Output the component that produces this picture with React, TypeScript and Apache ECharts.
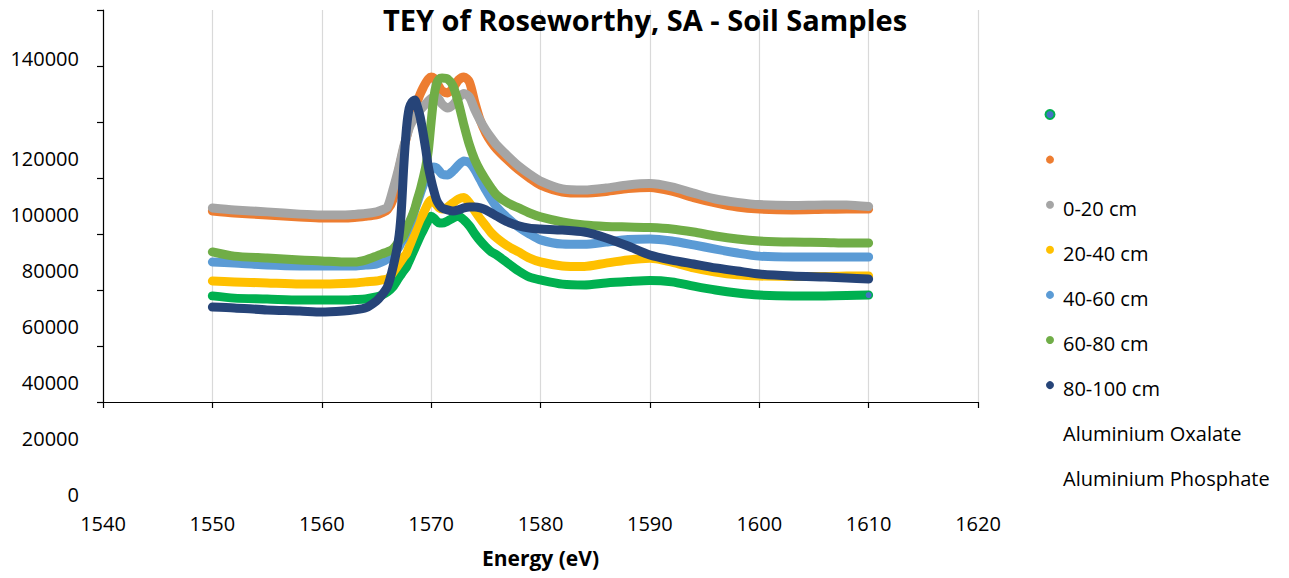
import React, { useEffect, useRef } from 'react';
import * as echarts from 'echarts';

// Photon energy (eV) of each sample point
const energy = [
  1550, 1552, 1555, 1558, 1560, 1562, 1563, 1564,
  1565, 1565.5, 1566, 1566.5, 1567, 1567.25, 1567.5, 1567.75,
  1568, 1568.25, 1568.5, 1568.75, 1569, 1569.25, 1569.5, 1569.75,
  1570, 1570.25, 1570.5, 1570.75, 1571, 1571.5, 1572, 1572.5,
  1573, 1573.5, 1574, 1574.5, 1575, 1575.5, 1576,
  1577, 1578, 1579, 1580,
  1582, 1584, 1586, 1588, 1590,
  1592, 1594, 1596, 1598, 1600,
  1603, 1606, 1608, 1610,
];

// Total electron yield per sample
const aluminiumOxalate = [
  37900, 37100, 36800, 36400, 36400, 36400, 36600, 36800,
  37500, 38200, 39300, 41100, 44100, 45500, 46900, 48200,
  50400, 52600, 54800, 57000, 59200, 61100, 63100, 65000,
  66300, 65700, 64600, 63900, 63900, 64600, 65700, 66300,
  65000, 62900, 60000, 57500, 55400, 53600, 52500,
  49600, 46800, 44600, 43600,
  42100, 41800, 42500, 43000, 43400,
  42900, 41400, 40000, 38900, 38200,
  37900, 37900, 38000, 38200,
];

const aluminiumPhosphate = [
  68200, 67500, 66800, 66100, 65700, 65700, 65900, 66300,
  66800, 67500, 68600, 72100, 82100, 86400, 90700, 94600,
  98600, 101800, 105000, 107500, 110000, 112100, 113900, 115400,
  116100, 115700, 114300, 112500, 111100, 110400, 112100, 115000,
  116100, 114300, 107000, 100500, 96000, 92800, 90300,
  86400, 82900, 80000, 77500,
  75000, 74600, 75200, 76200, 76600,
  75300, 73000, 71100, 69600, 68900,
  68600, 68800, 68900, 68900,
];

const depth0to20 = [
  69300, 68600, 67900, 67100, 66800, 66800, 67000, 67300,
  67900, 68600, 69600, 75700, 82900, 87100, 91400, 94600,
  97900, 100000, 101400, 102900, 104300, 105400, 106400, 107500,
  108400, 108900, 108900, 107900, 106400, 105000, 106100, 108600,
  110200, 108900, 104300, 100400, 97100, 94300, 91800,
  87900, 84300, 81400, 78900,
  76100, 75700, 76400, 77500, 78000,
  76800, 74600, 72500, 71300, 70500,
  70200, 70400, 70400, 69800,
];

const depth20to40 = [
  43200, 42900, 42500, 42100, 42100, 42300, 42500, 42900,
  43200, 43600, 43900, 46100, 48900, 50400, 51800, 53000,
  55500, 57900, 60400, 62900, 65200, 67100, 69100, 71100,
  72100, 71400, 70400, 69300, 68900, 69600, 71100, 72500,
  73000, 71100, 68200, 65400, 62900, 60400, 58600,
  55700, 53600, 51400, 50000,
  48600, 48400, 49600, 50700, 51300,
  50000, 47900, 46400, 45400, 45000,
  44800, 44800, 45000, 45000,
];

const depth40to60 = [
  50000, 49600, 48900, 48600, 48600, 48600, 48600, 48900,
  49300, 50000, 51100, 52500, 55000, 56800, 58600, 60700,
  62900, 65400, 68600, 71400, 74300, 77100, 79300, 81400,
  82900, 83900, 83600, 82500, 81400, 81100, 82500, 84600,
  86100, 85400, 82900, 79300, 75700, 72500, 69600,
  65700, 62500, 60000, 57900,
  56400, 56300, 57100, 58000, 58200,
  57500, 56100, 54600, 53200, 52100,
  51800, 51800, 51800, 51800,
];

const depth60to80 = [
  53600, 52100, 51400, 50700, 50400, 50000, 50000, 50700,
  52100, 52900, 53600, 54600, 57000, 58200, 59500, 61800,
  64100, 66400, 68900, 72500, 75700, 79600, 83900, 90000,
  100000, 108900, 113600, 115400, 115700, 115400, 112900, 106800,
  98900, 91800, 86400, 82500, 79300, 76400, 73900,
  71100, 69300, 67500, 66100,
  64300, 63200, 62700, 62500, 62300,
  61800, 60700, 59300, 58200, 57500,
  57100, 57000, 56800, 56800,
];

const depth80to100 = [
  33900, 33600, 32900, 32500, 32100, 32500, 32900, 33600,
  36100, 38200, 41100, 47900, 57500, 66800, 84300, 97900,
  105000, 107100, 107900, 105400, 101800, 96400, 90400, 83900,
  79300, 75400, 72100, 70400, 69300, 68600, 68200, 68600,
  69300, 69600, 69600, 69300, 68600, 67500, 66400,
  64300, 62900, 62100, 61800,
  61400, 60700, 58600, 55700, 52500,
  50700, 49300, 47900, 46800, 45700,
  45000, 44600, 44300, 43900,
];

const yTicks = [0, 20000, 40000, 60000, 80000, 100000, 120000, 140000];

const legendLabels = [
  '', '', '0-20 cm', '20-40 cm', '40-60 cm', '60-80 cm', '80-100 cm',
  'Aluminium Oxalate', 'Aluminium Phosphate',
];
const legendColors = [
  '#00B050', '#ED7D31', '#A5A5A5', '#FFC000', '#5B9BD5', '#70AD47', '#264478', '', '',
];

const W = 1289;
const H = 578;
const GRID = { left: 103, right: 311, top: 10, bottom: 176 };
const FONT = '"Open Sans", "Noto Sans", sans-serif';
const X_MIN = 1540;
const X_MAX = 1620;
const Y_MAX = 140000;

const seriesDefs = [
  { name: 'Aluminium Oxalate', color: '#00B050', values: aluminiumOxalate, endDot: '#4472C4' },
  { name: 'Aluminium Phosphate', color: '#ED7D31', values: aluminiumPhosphate },
  { name: '0-20 cm', color: '#A5A5A5', values: depth0to20 },
  { name: '20-40 cm', color: '#FFC000', values: depth20to40 },
  { name: '40-60 cm', color: '#5B9BD5', values: depth40to60 },
  { name: '60-80 cm', color: '#70AD47', values: depth60to80 },
  { name: '80-100 cm', color: '#264478', values: depth80to100 },
];

function buildOption() {
  const plotH = H - GRID.top - GRID.bottom;
  const tickY = (v: number) => GRID.top + (1 - v / Y_MAX) * plotH;

  // Value labels sit below their ticks, the top one closer to its tick
  const yLabels = yTicks.map((v) => ({
    type: 'text',
    x: 79,
    y: v === Y_MAX ? GRID.top + 48 : tickY(v) + 92,
    silent: true,
    style: {
      text: String(v),
      fontSize: 20,
      fontFamily: FONT,
      fill: '#000',
      align: 'right',
      verticalAlign: 'middle',
    },
  }));

  const legendItems: any[] = [];
  legendLabels.forEach((label, i) => {
    const cy = 118 + i * 45.1;
    const color = legendColors[i];
    if (color) {
      legendItems.push({
        type: 'circle',
        silent: true,
        shape: { cx: 1050, cy: cy - 3.5, r: i === 0 ? 4.5 : 4 },
        style: i === 0
          ? { fill: '#4472C4', stroke: color, lineWidth: 2 }
          : { fill: color },
      });
    }
    if (label) {
      legendItems.push({
        type: 'text',
        x: 1063,
        y: cy,
        silent: true,
        style: {
          text: label,
          fontSize: 20,
          fontFamily: FONT,
          fill: '#000',
          align: 'left',
          verticalAlign: 'middle',
        },
      });
    }
  });

  return {
    animation: false,
    backgroundColor: '#fff',
    grid: { ...GRID, containLabel: false, outerBoundsMode: 'none' },
    xAxis: {
      type: 'value',
      min: X_MIN,
      max: X_MAX,
      interval: 10,
      name: 'Energy (eV)',
      nameLocation: 'middle',
      nameGap: 145,
      nameTextStyle: { fontSize: 21, fontWeight: 'bold', fontFamily: FONT, color: '#000' },
      axisLine: { show: true, onZero: false, lineStyle: { color: '#000', width: 1.2 } },
      axisTick: { show: true, length: 6, lineStyle: { color: '#000', width: 1.2 } },
      axisLabel: {
        margin: 111,
        fontSize: 20,
        fontFamily: FONT,
        color: '#000',
        formatter: (v: number) => String(v),
      },
      splitLine: { show: true, lineStyle: { color: '#D9D9D9', width: 1.2 } },
    },
    yAxis: {
      type: 'value',
      min: 0,
      max: Y_MAX,
      interval: 20000,
      axisLine: { show: true, lineStyle: { color: '#000', width: 1.2 } },
      axisTick: { show: true, length: 6, lineStyle: { color: '#000', width: 1.2 } },
      axisLabel: { show: false },
      splitLine: { show: false },
    },
    graphic: [
      {
        type: 'text',
        x: 645,
        y: 5,
        z: 100,
        silent: true,
        style: {
          text: 'TEY of Roseworthy, SA - Soil Samples',
          fontSize: 29,
          fontWeight: 'bold',
          fontFamily: FONT,
          fill: '#000',
          align: 'center',
          verticalAlign: 'top',
        },
      },
      ...yLabels,
      ...legendItems,
    ],
    series: seriesDefs.map((s, si) => ({
      type: 'line',
      name: s.name,
      silent: true,
      symbol: 'none',
      showSymbol: true,
      smooth: 0.25,
      z: 2 + si,
      lineStyle: { color: s.color, width: 9, cap: 'round', join: 'round' },
      itemStyle: { color: s.color },
      data: s.values.map((v, i) => {
        const pt = [energy[i], v];
        if (s.endDot && i === s.values.length - 1) {
          return {
            value: pt,
            symbol: 'circle',
            symbolSize: 6,
            itemStyle: { color: s.endDot },
          };
        }
        return pt;
      }),
    })),
  };
}

export default function App() {
  const ref = useRef<HTMLDivElement>(null);

  useEffect(() => {
    if (!ref.current) return;
    const chart = echarts.init(ref.current, undefined, { renderer: 'svg', width: W, height: H });
    chart.setOption(buildOption() as any);
    return () => {
      chart.dispose();
    };
  }, []);

  return (
    <div
      ref={ref}
      style={{ position: 'absolute', left: 0, top: 0, width: W, height: H, background: '#fff' }}
    />
  );
}
